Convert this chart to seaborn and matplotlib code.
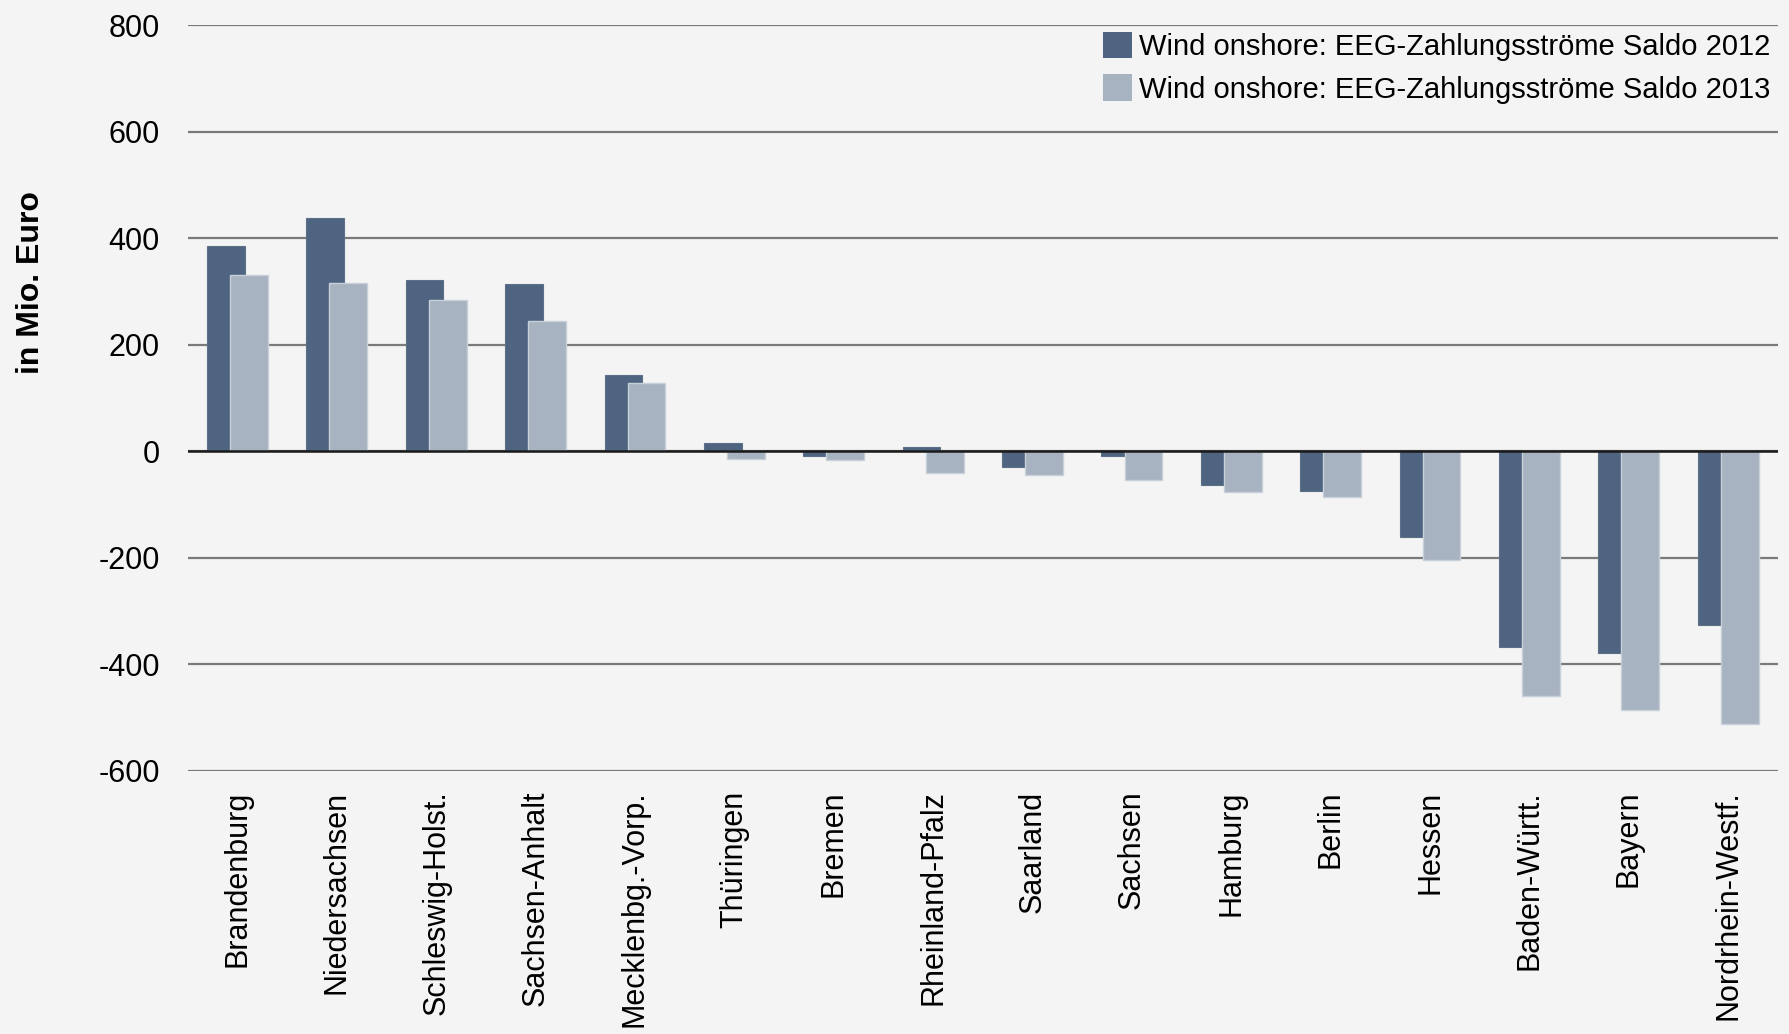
import numpy as np
import pandas as pd
import seaborn as sns
import matplotlib.pyplot as plt
from matplotlib.patches import Patch

# Wind onshore EEG payment balances per federal state (Mio. Euro)
states = ["Brandenburg", "Niedersachsen", "Schleswig-Holst.", "Sachsen-Anhalt",
          "Mecklenbg.-Vorp.", "Thüringen", "Bremen", "Rheinland-Pfalz",
          "Saarland", "Sachsen", "Hamburg", "Berlin", "Hessen",
          "Baden-Württ.", "Bayern", "Nordrhein-Westf."]
saldo_2012 = [386, 437, 321, 314, 144, 16, -9, 8, -29, -9, -63, -75, -160, -367, -379, -326]
saldo_2013 = [331, 316, 284, 245, 129, -14, -16, -41, -45, -53, -76, -85, -205, -460, -486, -511]
series_labels = ["Wind onshore: EEG-Zahlungsströme Saldo 2012",
                 "Wind onshore: EEG-Zahlungsströme Saldo 2013"]
yticks = [-600, -400, -200, 0, 200, 400, 600, 800]

dark = "#4e6480"
light = "#a8b3c1"
bg = "#f4f4f4"

sns.set_style("white")
plt.rcParams["font.family"] = ["Liberation Sans", "DejaVu Sans"]
plt.rcParams["text.color"] = "black"
plt.rcParams["xtick.color"] = "black"
plt.rcParams["ytick.color"] = "black"
plt.rcParams["axes.labelcolor"] = "black"

idx = np.arange(len(states))
df12 = pd.DataFrame({"pos": idx - 0.116, "value": saldo_2012})
df13 = pd.DataFrame({"pos": idx + 0.116, "value": saldo_2013})

fig = plt.figure(figsize=(17.89, 10.34), dpi=100, facecolor=bg)
ax = fig.add_axes([0.1049, 0.2544, 0.8889, 0.7214])
ax.set_facecolor(bg)

# grid lines behind the bars
for t in yticks:
    ax.axhline(t, color="#7a7a7a", lw=1.6, zorder=0)

sns.barplot(data=df12, x="pos", y="value", native_scale=True, width=0.38,
            color=dark, saturation=1, errorbar=None, ax=ax,
            edgecolor="#5d7088", linewidth=0.8, zorder=2)
sns.barplot(data=df13, x="pos", y="value", native_scale=True, width=0.38,
            color=light, saturation=1, errorbar=None, ax=ax,
            edgecolor="#c8d0da", linewidth=1.0, zorder=3)

ax.axhline(0, color="#1a1a1a", lw=1.8, zorder=4)

ax.set_xlim(-0.5, len(states) - 0.5)
ax.set_ylim(-600, 800)
ax.set_yticks(yticks)
ax.set_yticklabels([str(t) for t in yticks], fontsize=22)
ax.set_xticks(idx)
ax.set_xticklabels(states, rotation=90, fontsize=22, va="top", ha="center")
ax.tick_params(axis="y", length=0, pad=20)
ax.tick_params(axis="x", length=0, pad=14)
ax.set_xlabel("")
ax.set_ylabel("in Mio. Euro", fontsize=23, fontweight="bold")
ax.yaxis.set_label_coords(-0.089, 0.655)
sns.despine(ax=ax, left=True, bottom=True)

handles = [Patch(facecolor=dark, edgecolor="none"),
           Patch(facecolor=light, edgecolor="none")]
ax.legend(handles, series_labels, loc="upper right", bbox_to_anchor=(1.0, 1.0),
          frameon=False, fontsize=21, handlelength=1.0, handleheight=1.0,
          handletextpad=0.25, labelspacing=0.45, borderaxespad=0.15, borderpad=0.1)

fig.savefig("out.png", dpi=100, facecolor=bg)
